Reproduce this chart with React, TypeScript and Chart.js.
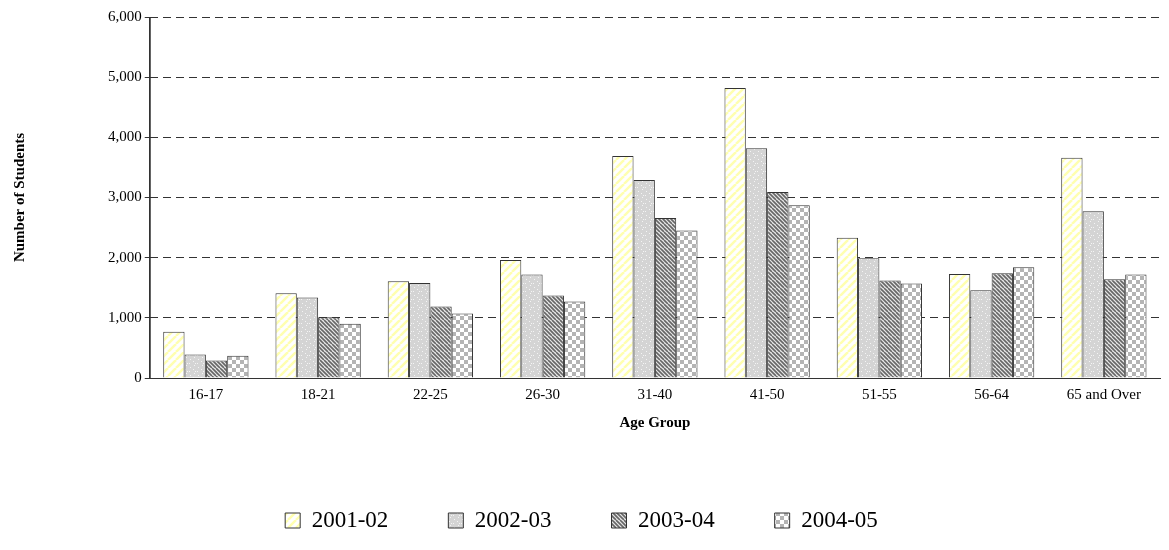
import { useEffect, useRef } from 'react';
import { Chart, registerables } from 'chart.js';

Chart.register(...registerables);

const ageGroups = ['16-17', '18-21', '22-25', '26-30', '31-40', '41-50', '51-55', '56-64', '65 and Over'];
const years = ['2001-02', '2002-03', '2003-04', '2004-05'];
const y2001 = [770, 1410, 1610, 1960, 3690, 4820, 2330, 1730, 3660];
const y2002 = [390, 1340, 1580, 1720, 3290, 3820, 1990, 1460, 2770];
const y2003 = [290, 1010, 1190, 1370, 2660, 3090, 1620, 1740, 1640];
const y2004 = [370, 900, 1070, 1270, 2450, 2870, 1570, 1840, 1720];

function makePattern(kind: number): CanvasPattern | string {
  const c = document.createElement('canvas');
  c.width = 8;
  c.height = 8;
  const g = c.getContext('2d');
  if (!g) return '#ccc';
  if (kind === 0) {
    g.fillStyle = '#ffffff';
    g.fillRect(0, 0, 8, 8);
    g.strokeStyle = '#ffffb0';
    g.lineWidth = 2.5;
    for (let o = -8; o <= 16; o += 8) {
      g.beginPath(); g.moveTo(o, 8); g.lineTo(o + 8, 0); g.stroke();
    }
  } else if (kind === 1) {
    g.fillStyle = '#d4d4d4';
    g.fillRect(0, 0, 8, 8);
    g.fillStyle = '#f4f4f4';
    [[1, 1], [5, 3], [2, 5], [6, 7], [3, 3]].forEach(([x, y]) => g.fillRect(x, y, 1, 1));
  } else if (kind === 2) {
    g.fillStyle = '#e8e8e8';
    g.fillRect(0, 0, 8, 8);
    g.strokeStyle = '#666666';
    g.lineWidth = 1.6;
    for (let o = -8; o <= 16; o += 4) {
      g.beginPath(); g.moveTo(o, 0); g.lineTo(o + 8, 8); g.stroke();
    }
  } else {
    g.fillStyle = '#ffffff';
    g.fillRect(0, 0, 8, 8);
    g.fillStyle = '#b4b4b4';
    g.fillRect(0, 0, 4, 4);
    g.fillRect(4, 4, 4, 4);
  }
  return g.createPattern(c, 'repeat') ?? '#ccc';
}

export default function App() {
  const ref = useRef<HTMLCanvasElement>(null);

  useEffect(() => {
    if (!ref.current) return;
    const series = [y2001, y2002, y2003, y2004];
    const chart = new Chart(ref.current, {
      type: 'bar',
      data: {
        labels: ageGroups,
        datasets: series.map((d, i) => ({
          label: years[i],
          data: d,
          backgroundColor: makePattern(i),
          borderColor: '#333',
          borderWidth: 1,
          categoryPercentage: 0.76,
          barPercentage: 1,
        })),
      },
      options: {
        animation: false,
        responsive: false,
        layout: { padding: { left: 3, right: 9, top: 17, bottom: 8 } },
        plugins: {
          tooltip: { enabled: false },
          legend: {
            position: 'bottom',
            labels: {
              font: { family: 'Liberation Serif', size: 23 },
              color: '#000',
              boxWidth: 15,
              boxHeight: 15,
              padding: 60,
            },
          },
        },
        scales: {
          x: {
            grid: { display: false },
            border: { color: '#333' },
            ticks: { color: '#000', font: { family: 'Liberation Serif', size: 15 }, maxRotation: 0, padding: 0 },
            title: {
              display: true,
              text: 'Age Group',
              color: '#000',
              font: { family: 'Liberation Serif', size: 15, weight: 'bold' },
              padding: { top: 10, bottom: 17 },
            },
          },
          y: {
            min: 0,
            max: 6000,
            ticks: {
              stepSize: 1000,
              color: '#000',
              font: { family: 'Liberation Serif', size: 15 },
              callback: (v) => Number(v).toLocaleString('en-US'),
            },
            grid: { color: '#333', tickLength: 5, drawTicks: true, tickBorderDash: [], tickColor: '#333' },
            border: { color: '#333', dash: [8, 5] },
            title: {
              display: true,
              text: 'Number of Students',
              color: '#000',
              font: { family: 'Liberation Serif', size: 15, weight: 'bold' },
              padding: { top: 8, bottom: 76 },
            },
          },
        },
      },
      plugins: [{
        id: 'solidLeft',
        afterDraw: (c) => {
          const { ctx, chartArea } = c;
          ctx.save();
          ctx.strokeStyle = '#333';
          ctx.lineWidth = 1;
          ctx.beginPath();
          ctx.moveTo(chartArea.left + 0.5, chartArea.top);
          ctx.lineTo(chartArea.left + 0.5, chartArea.bottom);
          ctx.stroke();
          ctx.restore();
        },
      }],
    });
    return () => chart.destroy();
  }, []);

  return (
    <div style={{ position: 'absolute', left: 0, top: 0, width: 1169, height: 550, background: '#fff' }}>
      <canvas ref={ref} width={1169} height={550} />
    </div>
  );
}
